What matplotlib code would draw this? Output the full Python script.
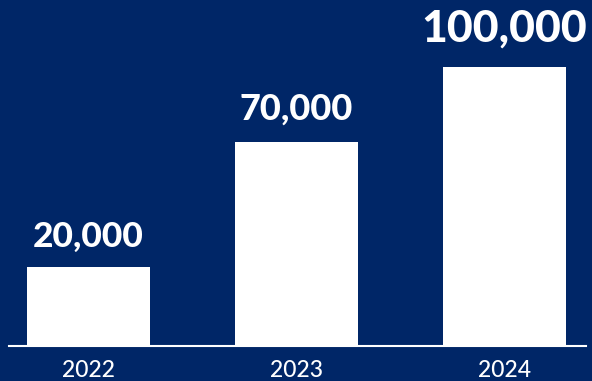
import matplotlib.pyplot as plt

years = ["2022", "2023", "2024"]
values = [20000, 70000, 100000]
value_labels = ["20,000", "70,000", "100,000"]

BG = "#002667"
BASE = -11400  # bars rise from here (designed infographic, not zero-based)

label_sizes = [25.5, 26, 32]
label_offsets = [15, 16, 18]

fig = plt.figure(figsize=(5.92, 3.81), dpi=100, facecolor=BG)
ax = fig.add_axes([9 / 592, 35 / 381, 577 / 592, 346 / 381])
ax.set_facecolor(BG)

x = list(range(len(years)))
bars = ax.bar(x, [v - BASE for v in values], bottom=BASE, width=0.59,
              color="white", zorder=2)

for bar, lab, fs, off in zip(bars, value_labels, label_sizes, label_offsets):
    ax.annotate(lab, (bar.get_x() + bar.get_width() / 2, bar.get_y() + bar.get_height()),
                xytext=(0, off), textcoords="offset points",
                ha="center", va="baseline", color="white",
                fontsize=fs, fontweight="black", family="Lato")

ax.set_xlim(-0.382, 2.392)
ax.set_ylim(BASE, BASE + 346 / 0.002506)

ax.set_xticks(x)
ax.set_xticklabels(years, color="white", fontsize=16.5, family="Lato",
                   fontweight="medium")
ax.tick_params(axis="x", length=0, pad=10)
ax.set_yticks([])

for side in ["top", "left", "right"]:
    ax.spines[side].set_visible(False)
ax.spines["bottom"].set_color("white")
ax.spines["bottom"].set_linewidth(1.5)
ax.spines["bottom"].set_zorder(3)

fig.savefig("out.png", dpi=100, facecolor=BG)
plt.close(fig)
